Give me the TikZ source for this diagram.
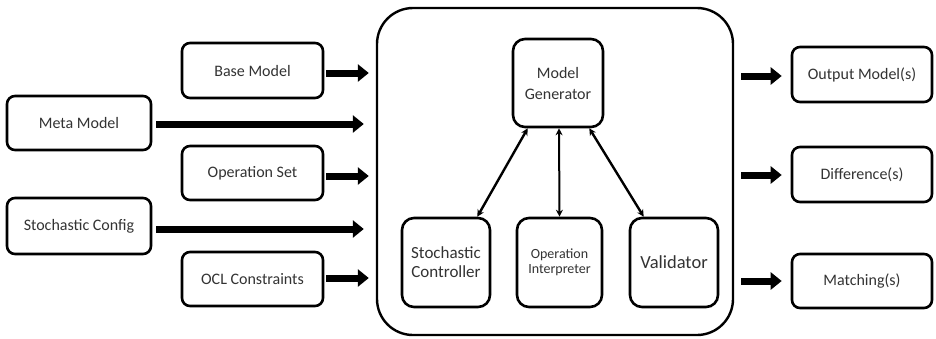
\documentclass[tikz,border=0pt]{standalone}
\usepackage{fontspec}
\setmainfont{Carlito}
\usetikzlibrary{arrows.meta,calc}
\definecolor{txt}{HTML}{333333}
\begin{document}
\begin{tikzpicture}[x=1pt,y=-1pt,
  box/.style={draw=black,line width=2.6pt,rounded corners=8pt,fill=white,
    font=\fontsize{16}{18}\selectfont,text=txt,align=center,inner sep=0pt},
  inbox/.style={box,rounded corners=12pt},
  cont/.style={draw=black,line width=2.4pt,rounded corners=36pt},
  fat/.style={line width=7pt,-{Triangle[length=11pt,width=17pt]}},
  thin/.style={line width=2.4pt,{Stealth[length=7pt,width=7pt]}-{Stealth[length=7pt,width=7pt]}}]
\useasboundingbox (0,0) rectangle (936,338);
% left inputs
\node[box,minimum width=141pt,minimum height=55pt] (base) at (252.5,70.5) {Base Model};
\node[box,minimum width=144pt,minimum height=54pt] (meta) at (79,123) {Meta Model};
\node[box,minimum width=141pt,minimum height=54pt] (opset) at (252.5,173) {Operation Set};
\node[box,minimum width=144pt,minimum height=56pt] (stoch) at (79,226) {Stochastic Config};
\node[box,minimum width=141pt,minimum height=54pt] (ocl) at (252.5,279) {OCL Constraints};
% container
\node[cont,minimum width=356pt,minimum height=327pt,inner sep=0pt] (cont) at (555,171.5) {};
% inner
\node[inbox,minimum width=90pt,minimum height=88pt] (mg) at (558,83) {Model\\[3pt]Generator};
\node[inbox,minimum width=88pt,minimum height=89pt,font=\fontsize{17}{19}\selectfont] (sc) at (446,262.5) {Stochastic\\Controller};
\node[inbox,minimum width=85pt,minimum height=89pt,font=\fontsize{14}{15.5}\selectfont] (oi) at (559.5,262.5) {Operation\\Interpreter};
\node[inbox,minimum width=88pt,minimum height=89pt,font=\fontsize{18.5}{20}\selectfont] (val) at (674,262.5) {Validator};
% outputs
\node[box,minimum width=140pt,minimum height=55pt] (out) at (862,74.5) {Output Model(s)};
\node[box,minimum width=140pt,minimum height=55pt] (diff) at (862,174.5) {Difference(s)};
\node[box,minimum width=140pt,minimum height=54pt] (match) at (862,281) {Matching(s)};
% input arrows
\draw[fat] ([xshift=2pt,yshift=-2.5pt]base.east) -- ([xshift=-7pt,yshift=-2.5pt]base.east -| cont.west);
\draw[fat] ([xshift=4pt,yshift=-1pt]meta.east) -- ([xshift=-12pt,yshift=-1pt]meta.east -| cont.west);
\draw[fat] ([xshift=2pt,yshift=-3pt]opset.east) -- ([xshift=-7pt,yshift=-3pt]opset.east -| cont.west);
\draw[fat] ([xshift=4pt,yshift=-3pt]stoch.east) -- ([xshift=-12pt,yshift=-3pt]stoch.east -| cont.west);
\draw[fat] ([xshift=2pt,yshift=1pt]ocl.east) -- ([xshift=-7pt,yshift=1pt]ocl.east -| cont.west);
% output arrows
\draw[fat] ([xshift=7pt,yshift=-1.5pt]out.west -| cont.east) -- ([xshift=-9pt,yshift=-1.5pt]out.west);
\draw[fat] ([xshift=7pt,yshift=-0.5pt]diff.west -| cont.east) -- ([xshift=-9pt,yshift=-0.5pt]diff.west);
\draw[fat] ([xshift=7pt]match.west -| cont.east) -- ([xshift=-9pt]match.west);
% inner arrows
\draw[thin] ([xshift=16pt]mg.south west) -- ([xshift=-14pt]sc.north east);
\draw[thin,line width=2pt] ([xshift=1pt]mg.south) -- (oi.north);
\draw[thin] ([xshift=-15pt]mg.south east) -- ([xshift=15pt]val.north west);
\end{tikzpicture}
\end{document}
